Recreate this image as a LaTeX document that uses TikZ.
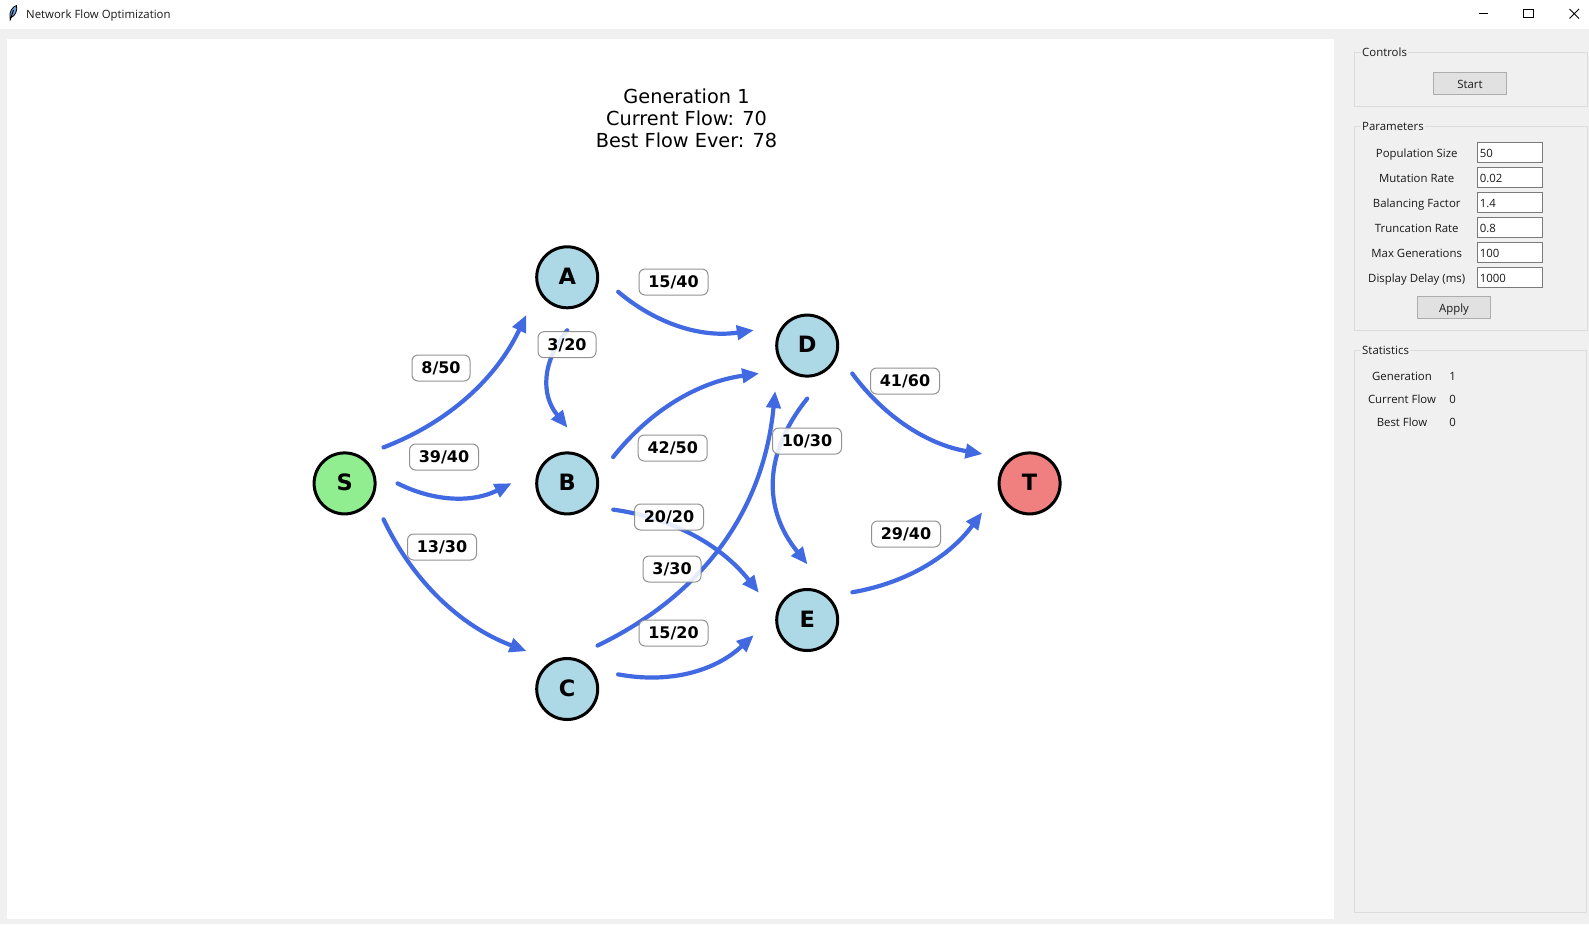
\documentclass[tikz,border=0pt]{standalone}
\usepackage{fontspec}
\setmainfont{DejaVu Sans}
\newfontfamily\uifont{Open Sans}
\usetikzlibrary{arrows.meta,calc}
\definecolor{royal}{HTML}{4169E1}
\definecolor{winbg}{HTML}{F0F0F0}
\definecolor{lblue}{HTML}{ADD8E6}
\definecolor{lgreen}{HTML}{90EE90}
\definecolor{lcoral}{HTML}{F08080}
\definecolor{framec}{HTML}{DCDCDC}
\definecolor{btnfill}{HTML}{E1E1E1}
\definecolor{btnline}{HTML}{ADADAD}
\definecolor{entryline}{HTML}{7A7A7A}
\definecolor{feather}{HTML}{6F9FD8}
\tikzset{
  vertex/.style={circle,draw=black,line width=3pt,minimum size=61pt,inner sep=0pt,outer sep=0pt,font=\fontsize{22.5}{22.5}\selectfont\bfseries,fill=lblue,text height=16.4pt,text depth=2.4pt},
  flow/.style={draw=royal,line width=4.2pt,line cap=round,-{Triangle[length=16.5pt,width=15.5pt,round,line width=0pt]}},
  caplabel/.style={draw=black!50,line width=1pt,fill=white,fill opacity=.88,draw opacity=.85,text opacity=1,rounded corners=6pt,minimum width=69pt,minimum height=26pt,inner sep=0pt,font=\fontsize{16}{16}\selectfont\bfseries,text height=12.4pt,text depth=1pt},
  ui/.style={inner sep=0pt,font=\uifont\fontsize{11.4}{12}\selectfont,text=black!90,text height=10pt,text depth=1pt},
  frame/.style={draw=framec,line width=1pt},
  legend/.style={ui,fill=winbg,inner xsep=1pt,anchor=west},
  button/.style={ui,draw=btnline,line width=1pt,fill=btnfill,minimum width=73pt,minimum height=22pt},
  entry/.style={ui,draw=entryline,line width=1pt,fill=white,minimum width=65pt,minimum height=20pt,anchor=west,text width=60pt,align=left},
}
\newcommand{\flowedge}[3]{%
  \coordinate (fp) at ($(#1)!53pt!(#2)$);
  \coordinate (fq) at ($(#2)!56pt!(#1)$);
  \coordinate (fc) at ($(fp)!.5!(fq)!#3!-90:(fq)$);
  \draw[flow] (fp) .. controls ($(fp)!.667!(fc)$) and ($(fq)!.667!(fc)$) .. (fq);
}
\begin{document}
\begin{tikzpicture}[x=1pt,y=-1pt]
\useasboundingbox (0,0) rectangle (1589,924);
% window
\fill[winbg] (0,0) rectangle (1589,924);
\fill[white] (0,0) rectangle (1589,29);
\fill[white] (7,39) rectangle (1334,919);
% title bar
\fill[feather,draw=black,line width=.8pt] (10,18) .. controls (9,12) and (12,7) .. (16.5,5.5) .. controls (17.5,10) and (15.5,16) .. (11,17.5) -- cycle;
\draw[black,line width=1pt] (13.5,10) -- (10,20.5);
\node[ui,anchor=west] (wintitle) at (26,14) {Network Flow Optimization};
\draw[black,line width=1pt] (1478.5,13.5) -- (1488,13.5);
\draw[black,line width=1pt] (1523.5,9) rectangle (1533,17.5);
\draw[black,line width=.9pt] (1569.5,9) -- (1579,18.5) (1579,9) -- (1569.5,18.5);
% plot title
\node[align=center,inner sep=0pt,font=\fontsize{19.3}{22.2}\selectfont] (plottitle) at (686.5,118.3) {Generation 1\\Current Flow: 70\\Best Flow Ever: 78};
% graph nodes
\node[vertex,fill=lgreen] (S) at (344.6,483.4) {S};
\node[vertex] (A) at (567.2,277.3) {A};
\node[vertex] (B) at (567.2,483.4) {B};
\node[vertex] (C) at (567.2,689) {C};
\node[vertex] (D) at (807.2,345.6) {D};
\node[vertex] (E) at (807.2,620) {E};
\node[vertex,fill=lcoral] (T) at (1029.6,483.4) {T};
% edges
\flowedge{S}{A}{.4}
\flowedge{S}{B}{.5}
\flowedge{S}{C}{.4}
\flowedge{A}{D}{.45}
\flowedge{A}{B}{.8}
\flowedge{B}{D}{-.4}
\flowedge{B}{E}{-.4}
\flowedge{C}{D}{.56}
\flowedge{C}{E}{.5}
\flowedge{D}{E}{.8}
\flowedge{D}{T}{.4}
\flowedge{E}{T}{.4}
% edge labels
\node[caplabel,minimum width=58pt] (lsa) at (441,368) {8/50};
\node[caplabel] (lsb) at (444,457) {39/40};
\node[caplabel] (lsc) at (442,547) {13/30};
\node[caplabel] (lad) at (673.5,282) {15/40};
\node[caplabel,minimum width=58pt] (lab) at (567,344.7) {3/20};
\node[caplabel] (lbd) at (672.7,448) {42/50};
\node[caplabel] (lbe) at (669,517) {20/20};
\node[caplabel,minimum width=58pt] (lcd) at (672,569) {3/30};
\node[caplabel] (lce) at (673.5,633) {15/20};
\node[caplabel] (lde) at (807,441) {10/30};
\node[caplabel] (ldt) at (905,381) {41/60};
\node[caplabel] (let) at (906,534) {29/40};
% controls panel
\draw[frame] (1354.5,52.5) rectangle (1587,106.5);
\node[legend] (lcontrols) at (1361,52) {Controls};
\node[button] (bstart) at (1470,83.5) {Start};
% parameters panel
\draw[frame] (1354.5,126.5) rectangle (1587,330.5);
\node[legend] (lparams) at (1361,126) {Parameters};
\node[ui] (p1) at (1416.7,152.7) {Population Size};
\node[ui] (p2) at (1416.7,177.7) {Mutation Rate};
\node[ui] (p3) at (1416.7,202.7) {Balancing Factor};
\node[ui] (p4) at (1416.7,227.7) {Truncation Rate};
\node[ui] (p5) at (1416.7,252.7) {Max Generations};
\node[ui] (p6) at (1416.7,277.7) {Display Delay (ms)};
\node[entry] (e1) at (1476.8,152.7) {50};
\node[entry] (e2) at (1476.8,177.7) {0.02};
\node[entry] (e3) at (1476.8,202.7) {1.4};
\node[entry] (e4) at (1476.8,227.7) {0.8};
\node[entry] (e5) at (1476.8,252.7) {100};
\node[entry] (e6) at (1476.8,277.7) {1000};
\node[button] (bapply) at (1454,307.5) {Apply};
% statistics panel
\draw[frame] (1354.5,350.5) rectangle (1586.5,912.5);
\node[legend] (lstats) at (1361,350) {Statistics};
\node[ui] (s1) at (1402,375.7) {Generation};
\node[ui] (s2) at (1402,398.7) {Current Flow};
\node[ui] (s3) at (1402,421.7) {Best Flow};
\node[ui] (v1) at (1452.7,375.7) {1};
\node[ui] (v2) at (1452.7,398.7) {0};
\node[ui] (v3) at (1452.7,421.7) {0};
\end{tikzpicture}
\end{document}
